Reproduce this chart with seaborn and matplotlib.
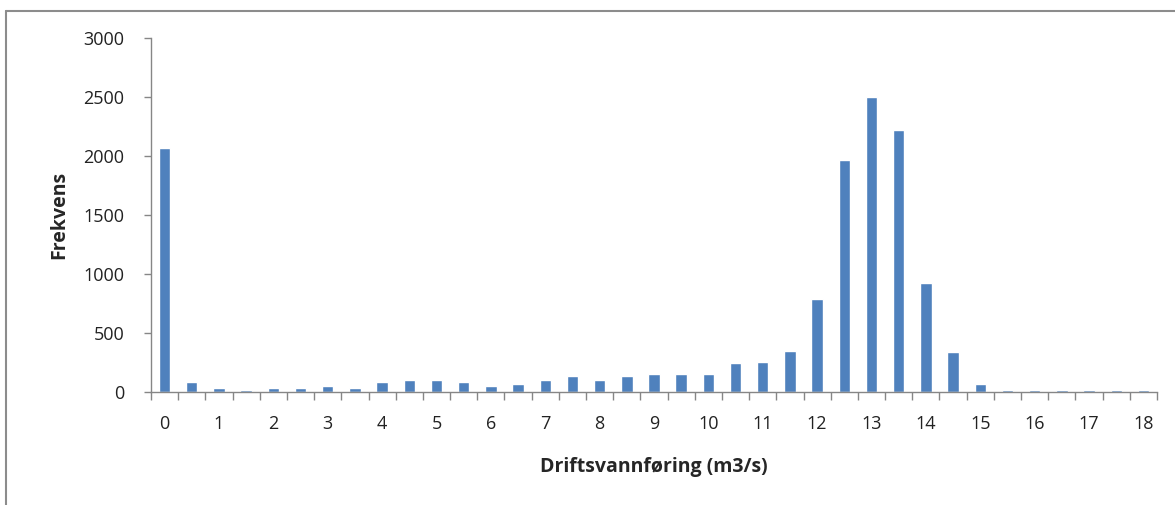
import numpy as np
import pandas as pd
import matplotlib
matplotlib.use("Agg")
import matplotlib.pyplot as plt
import seaborn as sns
from matplotlib.lines import Line2D
from matplotlib.ticker import FixedLocator

# Flow classes (m3/s), step 0.5
klasser = [0, 0.5, 1, 1.5, 2, 2.5, 3, 3.5, 4, 4.5, 5, 5.5, 6, 6.5, 7, 7.5, 8, 8.5, 9,
           9.5, 10, 10.5, 11, 11.5, 12, 12.5, 13, 13.5, 14, 14.5, 15, 15.5, 16, 16.5,
           17, 17.5, 18]
frekvens = [2070, 85, 37, 20, 37, 37, 51, 37, 85, 102, 102, 85, 51, 68, 102, 133, 102,
            133, 150, 150, 150, 243, 257, 350, 788, 1969, 2500, 2217, 924, 336, 68,
            20, 20, 20, 20, 20, 20]
x_labels = [str(i) for i in range(0, 19)]
y_ticks = [0, 500, 1000, 1500, 2000, 2500, 3000]

df = pd.DataFrame({'klasse': [str(k) for k in klasser], 'frekvens': frekvens})

sns.set_style('white')
plt.rcParams['font.family'] = ['Open Sans', 'DejaVu Sans']

fig = plt.figure(figsize=(11.75, 5.05), dpi=100)
ax = fig.add_axes([151 / 1175, 1 - 392 / 505, (1157 - 151) / 1175, (392 - 38) / 505])

sns.barplot(data=df, x='klasse', y='frekvens', color='#4F81BD', width=0.42,
            saturation=1, ax=ax)

ax.set_xlim(-0.5, len(klasser) - 0.5)
ax.set_ylim(0, 3000)

# labels every second class, tick marks at class borders
ax.set_xticks(np.arange(0, len(klasser), 2))
ax.set_xticklabels(x_labels)
ax.xaxis.set_minor_locator(FixedLocator(np.arange(-0.5, len(klasser), 1)))
ax.tick_params(axis='x', which='major', bottom=False, pad=13, labelsize=13,
               labelcolor='#222222')
ax.tick_params(axis='x', which='minor', bottom=True, length=6, width=1,
               color='#868686', direction='out')
ax.set_yticks(y_ticks)
ax.tick_params(axis='y', which='major', left=True, length=5, width=1, color='#868686',
               direction='out', labelsize=13, labelcolor='#222222', pad=14)

for side in ['top', 'right']:
    ax.spines[side].set_visible(False)
for side in ['left', 'bottom']:
    ax.spines[side].set_color('#868686')
    ax.spines[side].set_linewidth(1)

ax.set_xlabel('Driftsvannføring (m3/s)', fontsize=14, fontweight='bold', labelpad=17)
ax.set_ylabel('Frekvens', fontsize=14, fontweight='bold', labelpad=10)

# chart frame (top and left edges visible)
fig.add_artist(Line2D([6 / 1175, 1], [1 - 11 / 505, 1 - 11 / 505], color='#8c8c8c', lw=1.5,
                      transform=fig.transFigure))
fig.add_artist(Line2D([6 / 1175, 6 / 1175], [0, 1 - 11 / 505], color='#8c8c8c', lw=1.5,
                      transform=fig.transFigure))

plt.savefig('out.png', dpi=100)
